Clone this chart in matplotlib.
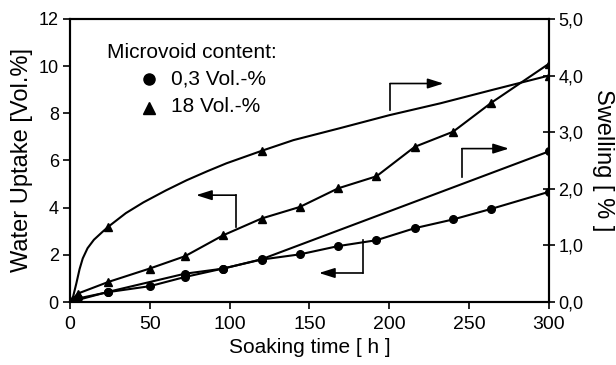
import matplotlib
matplotlib.use("Agg")
from matplotlib import pyplot as plt

plt.rcParams['font.family'] = ['Liberation Sans', 'DejaVu Sans']

# soaking times [h]
t_wu = [0, 5, 24, 50, 72, 96, 120, 144, 168, 192, 216, 240, 264, 300]

# water uptake [Vol.%]
wu_03 = [0, 0.15, 0.42, 0.67, 1.06, 1.42, 1.80, 2.02, 2.37, 2.62, 3.13, 3.50, 3.95, 4.67]
wu_18 = [0, 0.36, 0.85, 1.42, 1.94, 2.83, 3.54, 4.03, 4.82, 5.33, 6.58, 7.22, 8.45, 10.1]

# swelling [%]
t_sw03 = [0, 24, 72, 96, 120, 300]
sw_03 = [0, 0.18, 0.50, 0.59, 0.755, 2.66]

t_sw18 = [0, 24, 120, 300]
sw_18 = [0, 1.33, 2.67, 4.0]
# smoothed swelling curve for 18 Vol.-%
t_sw18_curve = [0, 2, 4, 6, 8, 11, 15, 20, 24, 35, 46, 60, 73, 86, 98, 110, 120,
                140, 169, 200, 232, 265, 300]
sw_18_curve = [0, 0.1, 0.33, 0.58, 0.77, 0.95, 1.1, 1.23, 1.33, 1.57, 1.76, 1.97, 2.15,
               2.31, 2.45, 2.57, 2.67, 2.86, 3.07, 3.3, 3.51, 3.75, 4.0]

x_ticks = [0, 50, 100, 150, 200, 250, 300]
left_ticks = [0, 2, 4, 6, 8, 10, 12]
right_ticks = [0, 1, 2, 3, 4, 5]
right_labels = ['0,0', '1,0', '2,0', '3,0', '4,0', '5,0']

fig, ax = plt.subplots(figsize=(6.16, 3.65), dpi=100)
fig.subplots_adjust(left=0.1136, right=0.891, top=0.948, bottom=0.1726)
ax2 = ax.twinx()

lw = 1.5
ax.plot(t_wu, wu_03, '-o', color='k', lw=lw, ms=5.5, zorder=3)
ax.plot(t_wu, wu_18, '-^', color='k', lw=lw, ms=6, zorder=3)
ax2.plot(t_sw03, sw_03, '-o', color='k', lw=lw, ms=5.5, zorder=3)
ax2.plot(t_sw18_curve, sw_18_curve, '-', color='k', lw=lw, zorder=3,
         solid_joinstyle='round')
ax2.plot(t_sw18, sw_18, '^', color='k', ms=6, zorder=3)

ax.set_xlim(0, 300)
ax.set_ylim(0, 12)
ax2.set_ylim(0, 5)
ax.set_xticks(x_ticks)
ax.set_yticks(left_ticks)
ax2.set_yticks(right_ticks)
ax2.set_yticklabels(right_labels)

ax.set_xlabel('Soaking time [ h ]', fontsize=15, labelpad=4)
ax.set_ylabel('Water Uptake [Vol.%]', fontsize=17, labelpad=4)
ax2.set_ylabel('Swelling [ % ]', fontsize=17, rotation=270, labelpad=22)

ax.tick_params(axis='x', direction='out', length=5, width=1.2, labelsize=14, pad=5)
ax.tick_params(axis='y', direction='out', length=5, width=1.2, labelsize=13, pad=3)
ax2.tick_params(axis='y', direction='inout', length=8, width=1.2, labelsize=13, pad=3)
for a in (ax, ax2):
    for s in a.spines.values():
        s.set_linewidth(1.5)


def bracket(axis, stem, corner, tip):
    axis.plot([stem[0], corner[0]], [stem[1], corner[1]], color='k', lw=1.2)
    axis.annotate('', xy=tip, xytext=corner,
                  arrowprops=dict(arrowstyle='-|>,head_length=0.95,head_width=0.3',
                                  color='k', lw=1.2, mutation_scale=10,
                                  shrinkA=0, shrinkB=0))


# arrows pointing to the axis each curve belongs to
bracket(ax, (104, 3.18), (104, 4.53), (79, 4.53))
bracket(ax, (183.5, 2.62), (183.5, 1.23), (156, 1.23))
bracket(ax2, (200.5, 3.39), (200.5, 3.86), (234, 3.86))
bracket(ax2, (245.5, 2.21), (245.5, 2.71), (275, 2.71))

# legend
ax.text(0.077, 0.88, 'Microvoid content:', transform=ax.transAxes,
        fontsize=15, va='center', ha='left')
ax.plot([0.165], [0.787], 'o', color='k', ms=8, transform=ax.transAxes, clip_on=False)
ax.text(0.21, 0.787, '0,3 Vol.-%', transform=ax.transAxes, fontsize=15, va='center', ha='left')
ax.plot([0.165], [0.685], '^', color='k', ms=8, transform=ax.transAxes, clip_on=False)
ax.text(0.21, 0.69, '18 Vol.-%', transform=ax.transAxes, fontsize=15, va='center', ha='left')

plt.savefig('out.png', dpi=100)
